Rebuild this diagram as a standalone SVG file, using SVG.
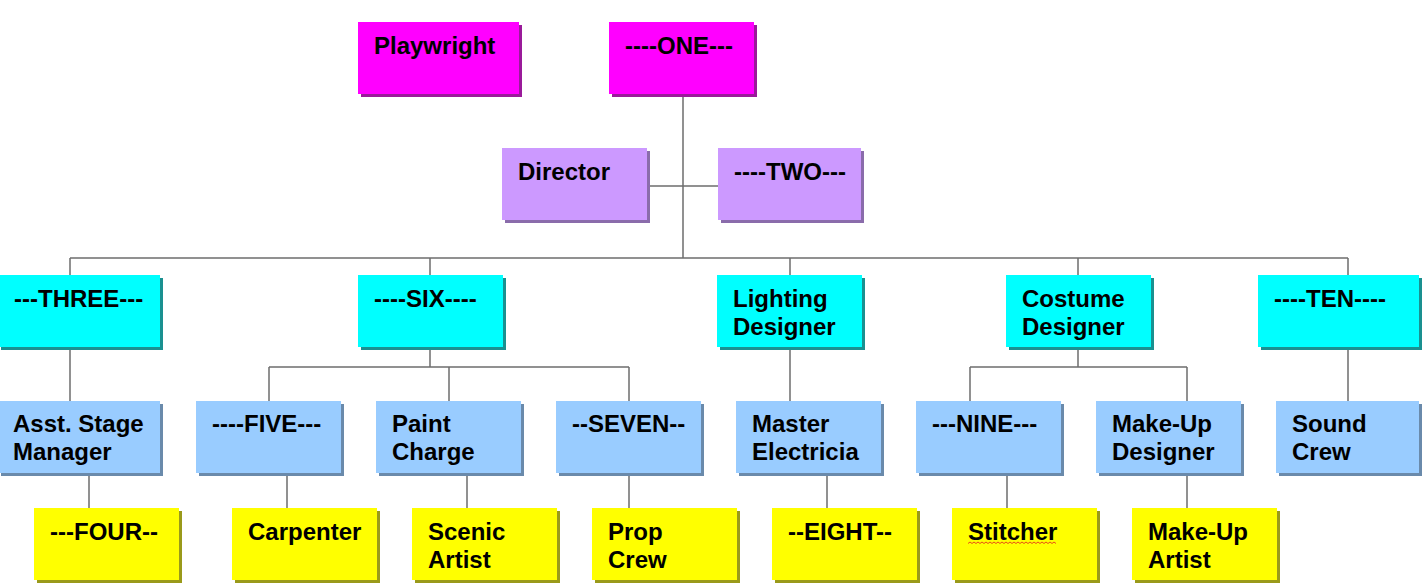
<svg xmlns="http://www.w3.org/2000/svg" width="1425" height="587" viewBox="0 0 1425 587">
<style>
.t{font-family:"Liberation Sans",Arial,sans-serif;font-weight:bold;font-size:24px;fill:#000}
.c{fill:none;stroke:#6e6e6e;stroke-width:1.5}
.m{fill:#FF00FF}.ms{fill:#9a1a9a}
.p{fill:#CC99FF}.ps{fill:#8a6cab}
.y{fill:#00FFFF}.ys{fill:#1a9090}
.b{fill:#99CCFF}.bs{fill:#6a8aab}
.w{fill:#FFFF00}.ws{fill:#9a9a1a}
</style>
<rect width="1425" height="587" fill="#fff"/>
<g id="connectors" class="c">
<path d="M683 94V258M647 186H718M70 258H1348M70 258V275M430 258V275M790 258V275M1078 258V275M1348 258V275"/>
<path d="M70 347V401M430 347V367M269 367H629M269 367V401M449 367V401M629 367V401M790 347V401M1078 347V367M970 367H1187M970 367V401M1187 367V401M1348 347V401"/>
<path d="M89 473V508M287 473V508M467 473V508M629 473V508M827 473V508M1007 473V508M1187 473V508"/>
</g>
<g id="playwright"><rect class="ms" x="361" y="25" width="161" height="72"/><rect class="m" x="358" y="22" width="161" height="72"/><text class="t" x="374" y="54">Playwright</text></g>
<g id="one"><rect class="ms" x="612" y="25" width="145" height="72"/><rect class="m" x="609" y="22" width="145" height="72"/><text class="t" x="625" y="54">----ONE---</text></g>
<g id="director"><rect class="ps" x="505" y="151" width="145" height="72"/><rect class="p" x="502" y="148" width="145" height="72"/><text class="t" x="518" y="180">Director</text></g>
<g id="two"><rect class="ps" x="721" y="151" width="143" height="72"/><rect class="p" x="718" y="148" width="143" height="72"/><text class="t" x="734" y="180">----TWO---</text></g>
<g id="three"><rect class="ys" x="1" y="278" width="162" height="72"/><rect class="y" x="-2" y="275" width="162" height="72"/><text class="t" x="14" y="307">---THREE---</text></g>
<g id="six"><rect class="ys" x="361" y="278" width="145" height="72"/><rect class="y" x="358" y="275" width="145" height="72"/><text class="t" x="374" y="307">----SIX----</text></g>
<g id="lighting"><rect class="ys" x="720" y="278" width="145" height="72"/><rect class="y" x="717" y="275" width="145" height="72"/><text class="t" x="733" y="307">Lighting</text><text class="t" x="733" y="335">Designer</text></g>
<g id="costume"><rect class="ys" x="1009" y="278" width="145" height="72"/><rect class="y" x="1006" y="275" width="145" height="72"/><text class="t" x="1022" y="307">Costume</text><text class="t" x="1022" y="335">Designer</text></g>
<g id="ten"><rect class="ys" x="1261" y="278" width="161" height="72"/><rect class="y" x="1258" y="275" width="161" height="72"/><text class="t" x="1274" y="307">----TEN----</text></g>
<g id="asst"><rect class="bs" x="1" y="404" width="162" height="72"/><rect class="b" x="-2" y="401" width="162" height="72"/><text class="t" x="13" y="432">Asst. Stage</text><text class="t" x="13" y="460">Manager</text></g>
<g id="five"><rect class="bs" x="199" y="404" width="145" height="72"/><rect class="b" x="196" y="401" width="145" height="72"/><text class="t" x="212" y="432">----FIVE---</text></g>
<g id="paint"><rect class="bs" x="379" y="404" width="145" height="72"/><rect class="b" x="376" y="401" width="145" height="72"/><text class="t" x="392" y="432">Paint</text><text class="t" x="392" y="460">Charge</text></g>
<g id="seven"><rect class="bs" x="559" y="404" width="145" height="72"/><rect class="b" x="556" y="401" width="145" height="72"/><text class="t" x="572" y="432">--SEVEN--</text></g>
<g id="master"><rect class="bs" x="739" y="404" width="145" height="72"/><rect class="b" x="736" y="401" width="145" height="72"/><text class="t" x="752" y="432">Master</text><text class="t" x="752" y="460">Electricia</text></g>
<g id="nine"><rect class="bs" x="919" y="404" width="145" height="72"/><rect class="b" x="916" y="401" width="145" height="72"/><text class="t" x="932" y="432">---NINE---</text></g>
<g id="makeup-designer"><rect class="bs" x="1099" y="404" width="145" height="72"/><rect class="b" x="1096" y="401" width="145" height="72"/><text class="t" x="1112" y="432">Make-Up</text><text class="t" x="1112" y="460">Designer</text></g>
<g id="sound"><rect class="bs" x="1279" y="404" width="143" height="72"/><rect class="b" x="1276" y="401" width="143" height="72"/><text class="t" x="1292" y="432">Sound</text><text class="t" x="1292" y="460">Crew</text></g>
<g id="four"><rect class="ws" x="37" y="511" width="145" height="72"/><rect class="w" x="34" y="508" width="145" height="72"/><text class="t" x="50" y="540">---FOUR--</text></g>
<g id="carpenter"><rect class="ws" x="235" y="511" width="145" height="72"/><rect class="w" x="232" y="508" width="145" height="72"/><text class="t" x="248" y="540">Carpenter</text></g>
<g id="scenic"><rect class="ws" x="415" y="511" width="145" height="72"/><rect class="w" x="412" y="508" width="145" height="72"/><text class="t" x="428" y="540">Scenic</text><text class="t" x="428" y="568">Artist</text></g>
<g id="prop"><rect class="ws" x="595" y="511" width="145" height="72"/><rect class="w" x="592" y="508" width="145" height="72"/><text class="t" x="608" y="540">Prop</text><text class="t" x="608" y="568">Crew</text></g>
<g id="eight"><rect class="ws" x="775" y="511" width="145" height="72"/><rect class="w" x="772" y="508" width="145" height="72"/><text class="t" x="788" y="540">--EIGHT--</text></g>
<g id="stitcher"><rect class="ws" x="955" y="511" width="145" height="72"/><rect class="w" x="952" y="508" width="145" height="72"/><text class="t" x="968" y="540">Stitcher</text><path d="M968 543.5l2 -1.5l2 1.5l2 -1.5l2 1.5l2 -1.5l2 1.5l2 -1.5l2 1.5l2 -1.5l2 1.5l2 -1.5l2 1.5l2 -1.5l2 1.5l2 -1.5l2 1.5l2 -1.5l2 1.5l2 -1.5l2 1.5l2 -1.5l2 1.5l2 -1.5l2 1.5l2 -1.5l2 1.5l2 -1.5l2 1.5l2 -1.5l2 1.5l2 -1.5l2 1.5l2 -1.5l2 1.5l2 -1.5l2 1.5l2 -1.5l2 1.5l2 -1.5l2 1.5l2 -1.5l2 1.5l2 -1.5l2 1.5" fill="none" stroke="#e02020" stroke-width="0.8"/></g>
<g id="makeup-artist"><rect class="ws" x="1135" y="511" width="145" height="72"/><rect class="w" x="1132" y="508" width="145" height="72"/><text class="t" x="1148" y="540">Make-Up</text><text class="t" x="1148" y="568">Artist</text></g>
</svg>
